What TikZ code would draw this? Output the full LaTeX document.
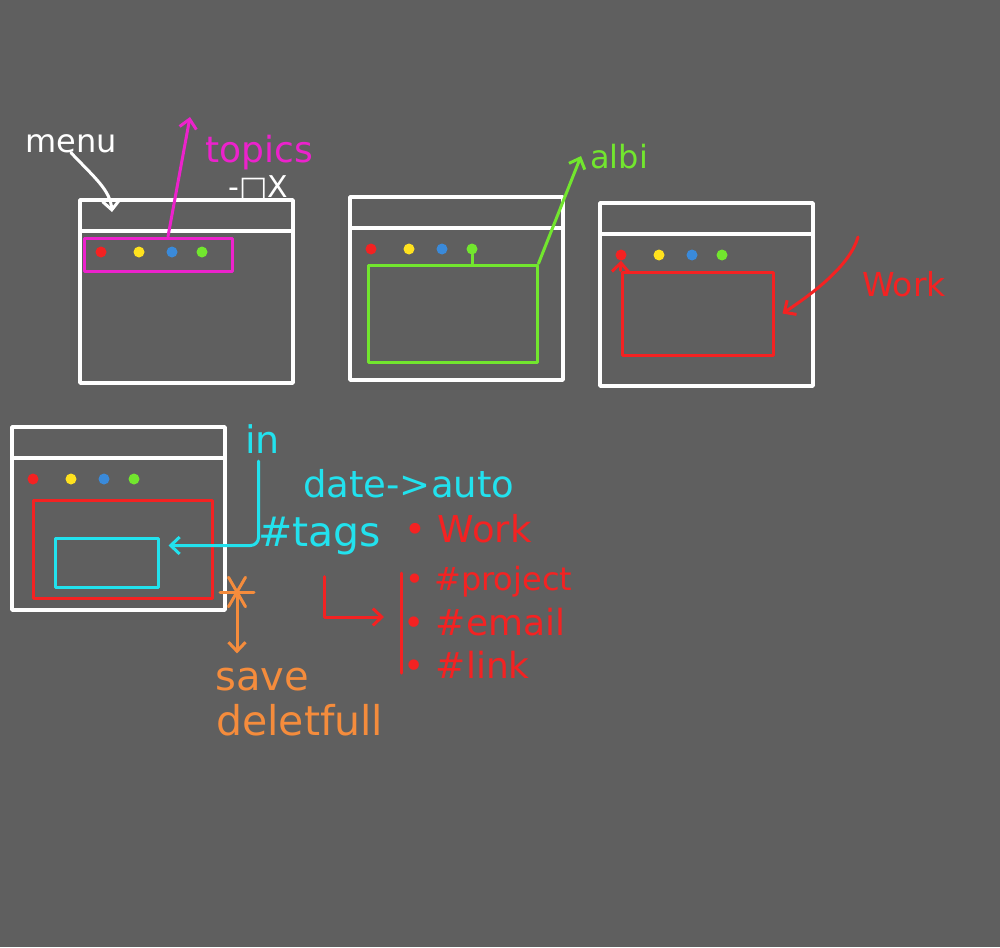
\documentclass[tikz,border=0pt]{standalone}
\usepackage{fontspec}
\setmainfont{DejaVu Sans}
\usetikzlibrary{arrows.meta}
\definecolor{board}{HTML}{5F5F5F}
\definecolor{pinkpen}{HTML}{EC22CC}
\definecolor{greenpen}{HTML}{72E62E}
\definecolor{redpen}{HTML}{F42222}
\definecolor{cyanpen}{HTML}{22E2EE}
\definecolor{orangepen}{HTML}{F58C3C}
\definecolor{yellowpen}{HTML}{FFE21E}
\definecolor{bluepen}{HTML}{3A8ADA}
\tikzset{
  pen/.style={line width=3pt, line cap=round, line join=round},
  frame/.style={draw=white, pen, line width=3.6pt},
  penarrow/.style={-{Straight Barb[length=9pt,width=17pt]}},
  lbl/.style={inner sep=0pt, anchor=base west, font=\fontsize{38}{38}\selectfont},
  dot/.style={circle, fill, inner sep=0pt, minimum width=11pt},
  boxline/.style={pen, inner sep=0pt},
}
\begin{document}
\begin{tikzpicture}[x=1pt,y=-1pt]
\fill[board] (0,0) rectangle (1000,947);
\useasboundingbox (0,0) rectangle (1000,947);

% windows
\foreach \n/\x/\y in {1/80/200, 2/350/197, 3/600/203, 4/12/427} {
  \path[frame] (\x,\y) rectangle ++(213,183);
  \path[frame] (\x,\y+31) -- ++(213,0);
  \node[dot,redpen] (r\n) at (\x+21,\y+52) {};
  \node[dot,yellowpen] (y\n) at (\x+59,\y+52) {};
  \node[dot,bluepen] (b\n) at (\x+92,\y+52) {};
  \node[dot,greenpen] (g\n) at (\x+122,\y+52) {};
}

% boxes
\node[boxline,draw=pinkpen,minimum width=148pt,minimum height=33pt] (topicbar) at (158,254.5) {};
\node[boxline,draw=greenpen,minimum width=169pt,minimum height=97pt] (albibox) at (452.5,313.5) {};
\node[boxline,draw=redpen,minimum width=151pt,minimum height=83pt] (workbox) at (697.5,313.5) {};
\node[boxline,draw=redpen,minimum width=179pt,minimum height=98pt] (outerbox) at (122.5,549) {};
\node[boxline,draw=cyanpen,minimum width=103pt,minimum height=49pt] (inbox) at (106.5,562.5) {};

% labels
\node[lbl,white,font=\fontsize{32}{32}\selectfont] (menu) at (25,152) {menu};
\node[lbl,pinkpen,font=\fontsize{36}{36}\selectfont] (topics) at (205,162) {topics};
\node[lbl,white,font=\fontsize{30}{30}\selectfont] (ctrls) at (228,197) {-□X};
\node[lbl,greenpen,font=\fontsize{32}{32}\selectfont] (albi) at (590,168) {albi};
\node[lbl,redpen,font=\fontsize{33}{33}\selectfont] (work) at (862,296) {Work};
\node[lbl,cyanpen] (in) at (245,453) {in};
\node[lbl,cyanpen,font=\fontsize{37}{37}\selectfont] (date) at (303,497) {date->auto};
\node[lbl,cyanpen,font=\fontsize{41}{41}\selectfont] (tags) at (258,546) {\#tags};
\node[lbl,redpen,font=\fontsize{37}{37}\selectfont] (tagwork) at (404,542) {• Work};
\node[lbl,redpen,font=\fontsize{32}{32}\selectfont] (project) at (405,590) {• \#project};
\node[lbl,redpen,font=\fontsize{36}{36}\selectfont] (email) at (403,635) {• \#email};
\node[lbl,redpen,font=\fontsize{36}{36}\selectfont] (link) at (403,678) {• \#link};
\node[lbl,orangepen,font=\fontsize{40}{40}\selectfont] (save) at (215,690) {save};
\node[lbl,orangepen,font=\fontsize{41}{41}\selectfont] (delet) at (216,735) {deletfull};

% free ends
\coordinate (menutip) at (112,212);
\coordinate (topicstip) at (190,117);
\coordinate (worktail) at (858,237);
\coordinate (star) at (237,592);
\coordinate (bartop) at (401,573);
\coordinate (barmid) at (401,617);
\coordinate (barbot) at (401,673);

% connectors
\path[draw=white,pen,penarrow] (menu.south) .. controls (95,178) and (110,190) .. (menutip);
\path[draw=pinkpen,pen,penarrow] ([xshift=10pt]topicbar.north) -- (topicstip);
\path[draw=greenpen,pen,penarrow] (albibox.north east) -- ([xshift=-9pt]albi.west);
\path[draw=greenpen,pen] (g2.south) -- (g2 |- albibox.north);
\path[draw=redpen,pen,penarrow] (workbox.north west) -- (r3.south);
\path[draw=redpen,pen,penarrow] (worktail) .. controls (850,265) and (815,292) .. ([xshift=8pt]workbox.east);
\path[draw=cyanpen,pen,penarrow,rounded corners=8pt] ([xshift=-4pt,yshift=-8pt]in.south) |- ([xshift=9pt,yshift=17pt]inbox.east);
\foreach \a in {0,60,120}
  \path[draw=orangepen,pen] (star) ++(\a:17) -- ++(\a+180:34);
\path[draw=orangepen,pen,penarrow,shorten >=14pt] (star) -- (star |- save.north);
\path[draw=redpen,pen] (bartop) -- (barbot);
\path[draw=redpen,pen,penarrow,shorten >=17pt] ([xshift=5pt,yshift=-22pt]tags.south) |- (barmid);

\end{tikzpicture}
\end{document}
